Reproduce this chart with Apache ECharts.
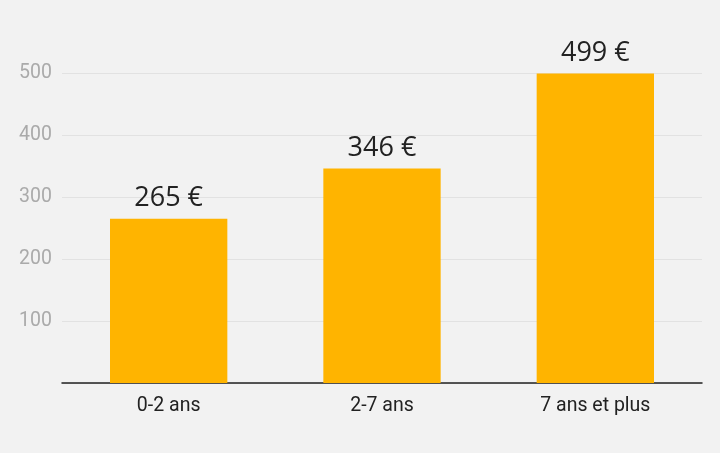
<!DOCTYPE html>
<html>
<head>
<meta charset="utf-8">
<script src="https://cdn.jsdelivr.net/npm/echarts@6/dist/echarts.min.js"></script>
<style>
  html, body { margin: 0; padding: 0; background: #f2f2f2; }
  #chart { width: 720px; height: 453px; }
</style>
</head>
<body>
<div id="chart"></div>
<script>
const categories = ['0-2 ans', '2-7 ans', '7 ans et plus'];
const values = [265, 346, 499];

const chart = echarts.init(document.getElementById('chart'), null, { renderer: 'canvas' });
chart.setOption({
  backgroundColor: '#f2f2f2',
  animation: false,
  grid: { left: 62, right: 18, top: 73, bottom: 70 },
  xAxis: {
    type: 'category',
    data: categories,
    axisLine: { lineStyle: { color: '#222', width: 1.5 } },
    axisTick: { show: false },
    axisLabel: { color: '#222', fontFamily: 'Roboto', fontSize: 19.5, margin: 13 }
  },
  yAxis: {
    type: 'value',
    min: 0,
    max: 500,
    interval: 100,
    axisLine: { show: false },
    axisTick: { show: false },
    axisLabel: { color: '#aaaaaa', fontFamily: 'Roboto', fontSize: 19.5, margin: 10, showMinLabel: false },
    splitLine: { lineStyle: { color: '#e2e2e2', width: 1 } }
  },
  series: [{
    type: 'bar',
    data: values,
    barWidth: '55%',
    itemStyle: { color: '#ffb400' },
    label: {
      show: true,
      position: 'top',
      distance: 7,
      formatter: p => p.value + ' €',
      color: '#222',
      fontFamily: 'Open Sans',
      fontSize: 27
    }
  }]
});
</script>
</body>
</html>
